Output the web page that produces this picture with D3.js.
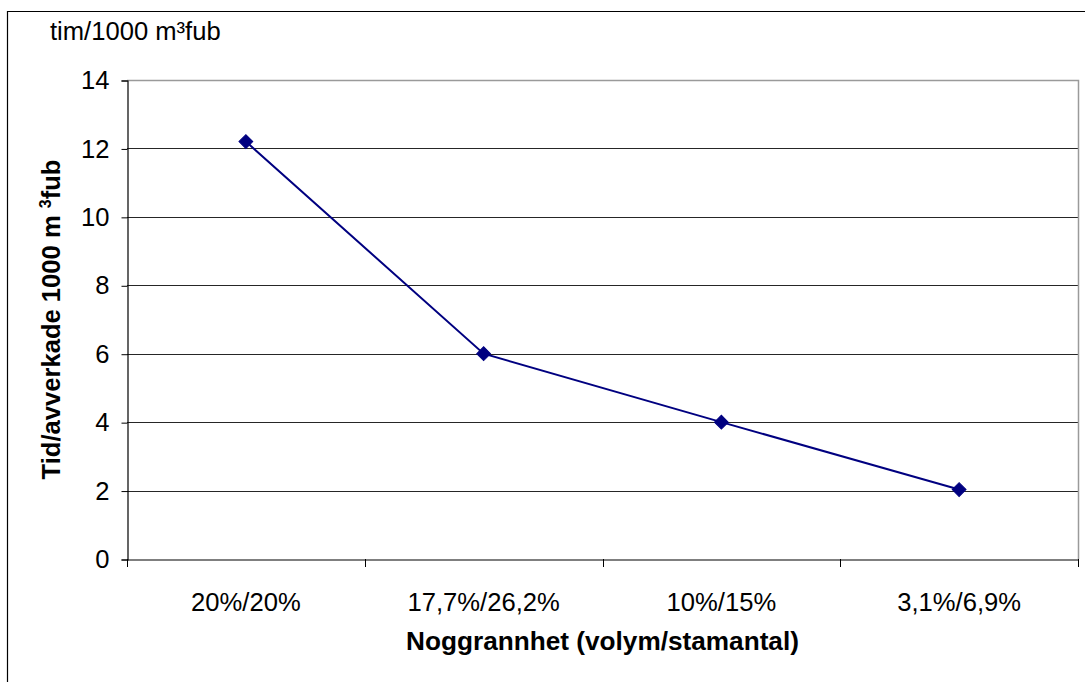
<!DOCTYPE html>
<html>
<head>
<meta charset="utf-8">
<script src="https://cdn.jsdelivr.net/npm/d3@7"></script>
<style>
  html, body { margin: 0; padding: 0; background: #fff; }
  svg { display: block; font-family: "Liberation Sans", Arial, sans-serif; }
</style>
</head>
<body>
<svg id="chart" width="1085" height="682"></svg>
<script>
const categories = ["20%/20%", "17,7%/26,2%", "10%/15%", "3,1%/6,9%"];
const values = [12.2, 6.0, 4.0, 2.03];
const yTicks = [0, 2, 4, 6, 8, 10, 12, 14];
const unitLabel = "tim/1000 m³fub";
const xTitle = "Noggrannhet (volym/stamantal)";

const svg = d3.select("#chart");
const W = 1085, H = 682;
const plot = { left: 127, right: 1078, top: 80, bottom: 559 };
const FS = 25.6;

const x = d3.scaleBand().domain(categories).range([plot.left, plot.right]).padding(0);
const y = d3.scaleLinear().domain([0, 14]).range([plot.bottom, plot.top]);

// outer frame (only top and left visible)
svg.append("path")
  .attr("d", `M7.5,${H} L7.5,11.5 L${W},11.5`)
  .attr("fill", "none").attr("stroke", "#000").attr("stroke-width", 1.2);

// gridlines
svg.append("g").selectAll("line")
  .data(yTicks.filter(t => t > 0 && t < 14))
  .join("line")
  .attr("x1", plot.left).attr("x2", plot.right)
  .attr("y1", d => Math.round(y(d)) + 0.5).attr("y2", d => Math.round(y(d)) + 0.5)
  .attr("stroke", "#262626").attr("stroke-width", 1);

// plot area border (top and right) gray
svg.append("path")
  .attr("d", `M${plot.left},${y(14) + 0.5} L${plot.right + 0.5},${y(14) + 0.5} L${plot.right + 0.5},${plot.bottom}`)
  .attr("fill", "none").attr("stroke", "#9a9a9a").attr("stroke-width", 1.5);

// Y axis
const yAxis = d3.axisLeft(y).tickValues(yTicks).tickSize(6).tickPadding(12).tickFormat(d3.format("d"));
const gy = svg.append("g").attr("transform", `translate(${plot.left + 0.5},0.5)`).call(yAxis);
gy.select(".domain").attr("stroke", "#000").attr("stroke-width", 1.2);
gy.selectAll(".tick line").attr("stroke", "#000");
gy.selectAll(".tick text").attr("font-size", FS).attr("fill", "#000")
  .attr("font-family", "'Liberation Sans', Arial, sans-serif");

// X axis (labels)
const xAxis = d3.axisBottom(x).tickSize(0).tickPadding(33);
const gx = svg.append("g").attr("transform", `translate(0,${plot.bottom + 0.5})`).call(xAxis);
gx.select(".domain").attr("stroke", "#000").attr("stroke-width", 1.2);
gx.selectAll(".tick text").attr("font-size", FS).attr("fill", "#000")
  .attr("font-family", "'Liberation Sans', Arial, sans-serif");

// X boundary ticks
const bounds = categories.map(c => x(c)).concat([x.range()[1]]);
svg.append("g").selectAll("line")
  .data(bounds).join("line")
  .attr("x1", d => Math.round(d) + 0.5).attr("x2", d => Math.round(d) + 0.5)
  .attr("y1", plot.bottom).attr("y2", plot.bottom + 8)
  .attr("stroke", "#000").attr("stroke-width", 1);

// data line
const line = d3.line()
  .x((d, i) => x(categories[i]) + x.bandwidth() / 2)
  .y(d => y(d));
svg.append("path").datum(values)
  .attr("d", line).attr("fill", "none")
  .attr("stroke", "#000080").attr("stroke-width", 2);

// markers (diamonds)
svg.append("g").selectAll("path")
  .data(values).join("path")
  .attr("d", d3.symbol().type(d3.symbolSquare).size(95))
  .attr("transform", (d, i) => `translate(${x(categories[i]) + x.bandwidth() / 2},${y(d)}) rotate(45)`)
  .attr("fill", "#000080").attr("stroke", "#000080").attr("stroke-width", 1);

// unit label top-left
svg.append("text")
  .attr("x", 50).attr("y", 40)
  .attr("font-size", FS).attr("fill", "#000")
  .text(unitLabel);

// x title
svg.append("text")
  .attr("x", (plot.left + plot.right) / 2).attr("y", 650)
  .attr("text-anchor", "middle").attr("font-size", 26.2).attr("font-weight", "bold")
  .text(xTitle);

// y title with superscript
const yt = svg.append("text")
  .attr("transform", `translate(60,${(plot.top + plot.bottom) / 2}) rotate(-90)`)
  .attr("text-anchor", "middle").attr("font-size", 25.6).attr("font-weight", "bold");
yt.append("tspan").text("Tid/avverkade 1000 m ");
yt.append("tspan").attr("dy", -9).attr("font-size", 16).text("3");
yt.append("tspan").attr("dy", 9).text("fub");
</script>
</body>
</html>
